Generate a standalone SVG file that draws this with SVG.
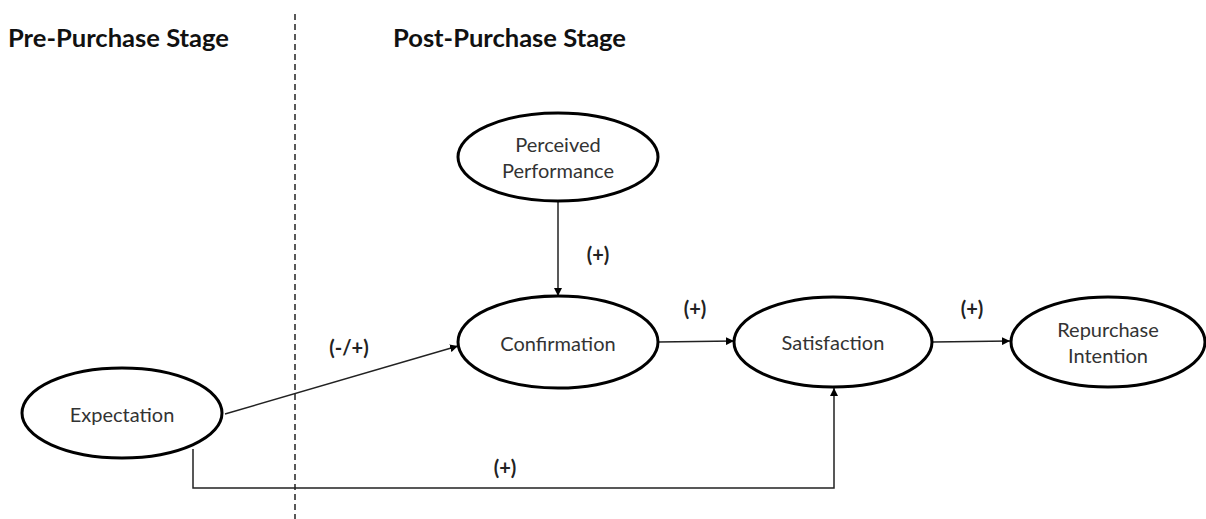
<svg xmlns="http://www.w3.org/2000/svg" width="1206" height="519" viewBox="0 0 1206 519">
<defs>
<marker id="arr" viewBox="0 0 10 10" refX="10" refY="5" markerWidth="8" markerHeight="8" markerUnits="userSpaceOnUse" orient="auto"><path d="M0,0 L10,5 L0,10 z" fill="#000"/></marker>
<style>
.node{fill:#fff;stroke:#000;stroke-width:3}
.lbl{font-family:Lato,"Open Sans","Liberation Sans",sans-serif;font-size:20px;fill:#333;text-anchor:middle}
.sign{font-family:Lato,"Open Sans","Liberation Sans",sans-serif;font-size:20px;font-weight:bold;fill:#222;text-anchor:middle}
.head{font-family:Lato,"Open Sans","Liberation Sans",sans-serif;font-size:24px;font-weight:bold;fill:#111}
.conn{fill:none;stroke:#222;stroke-width:1.5}
</style>
</defs>
<rect width="1206" height="519" fill="#fff"/>
<text class="head" x="8" y="47" textLength="221" lengthAdjust="spacingAndGlyphs">Pre-Purchase Stage</text>
<text class="head" x="393" y="47" textLength="233" lengthAdjust="spacingAndGlyphs">Post-Purchase Stage</text>
<line x1="295" y1="14" x2="295" y2="519" stroke="#000" stroke-width="1.3" stroke-dasharray="6,4"/>
<g id="connectors">
<line class="conn" x1="558" y1="201" x2="558" y2="296" marker-end="url(#arr)"/>
<line class="conn" x1="225" y1="414" x2="458" y2="346" marker-end="url(#arr)"/>
<line class="conn" x1="658" y1="342" x2="734" y2="341" marker-end="url(#arr)"/>
<line class="conn" x1="933" y1="342" x2="1010" y2="341" marker-end="url(#arr)"/>
<polyline class="conn" points="193,449 193,488 834,488 834,388" marker-end="url(#arr)"/>
<text class="sign" x="598" y="262">(+)</text>
<text class="sign" x="349" y="355">(-/+)</text>
<text class="sign" x="695" y="316">(+)</text>
<text class="sign" x="972" y="316">(+)</text>
<text class="sign" x="505" y="475">(+)</text>
</g>
<g id="perceived">
<ellipse class="node" cx="558" cy="157" rx="100" ry="44"/>
<text class="lbl" x="558" y="152">Perceived</text>
<text class="lbl" x="558" y="178">Performance</text>
</g>
<g id="confirmation">
<ellipse class="node" cx="558" cy="342" rx="100" ry="46"/>
<text class="lbl" x="558" y="351">Confirmation</text>
</g>
<g id="satisfaction">
<ellipse class="node" cx="833" cy="342" rx="99" ry="45"/>
<text class="lbl" x="833" y="350">Satisfaction</text>
</g>
<g id="repurchase">
<ellipse class="node" cx="1108" cy="342" rx="97" ry="45"/>
<text class="lbl" x="1108" y="337">Repurchase</text>
<text class="lbl" x="1108" y="363">Intention</text>
</g>
<g id="expectation">
<ellipse class="node" cx="122" cy="413" rx="100" ry="45"/>
<text class="lbl" x="122" y="422">Expectation</text>
</g>
</svg>
